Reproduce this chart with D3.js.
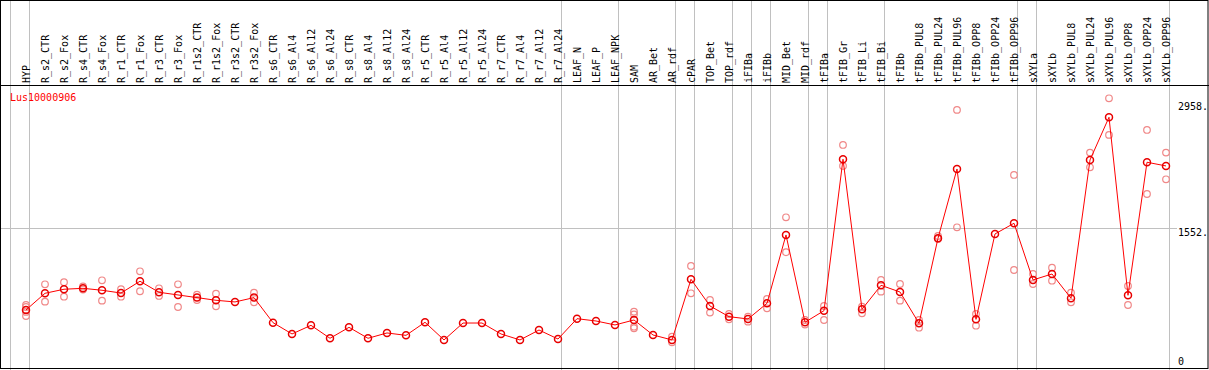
<!DOCTYPE html>
<html>
<head>
<meta charset="utf-8">
<script src="https://cdn.jsdelivr.net/npm/d3@7/dist/d3.min.js"></script>
<style>
  body { margin: 0; background: #fff; }
  svg { display: block; }
  text { font-family: 'DejaVu Sans Mono', monospace; font-size: 10px; }
</style>
</head>
<body>
<div id="chart"></div>
<script>
'use strict';

var title = 'Lus10000906';

var samples = [
  'HYP', 'R_s2_CTR', 'R_s2_Fox', 'R_s4_CTR', 'R_s4_Fox', 'R_r1_CTR', 'R_r1_Fox',
  'R_r3_CTR', 'R_r3_Fox', 'R_r1s2_CTR', 'R_r1s2_Fox', 'R_r3s2_CTR', 'R_r3s2_Fox',
  'R_s6_CTR', 'R_s6_Al4', 'R_s6_Al12', 'R_s6_Al24', 'R_s8_CTR', 'R_s8_Al4',
  'R_s8_Al12', 'R_s8_Al24', 'R_r5_CTR', 'R_r5_Al4', 'R_r5_Al12', 'R_r5_Al24',
  'R_r7_CTR', 'R_r7_Al4', 'R_r7_Al12', 'R_r7_Al24', 'LEAF_N', 'LEAF_P', 'LEAF_NPK',
  'SAM', 'AR_Bet', 'AR_rdf', 'cPAR', 'TOP_Bet', 'TOP_rdf', 'iFIBa', 'iFIBb',
  'MID_Bet', 'MID_rdf', 'tFIBa', 'tFIB_Gr', 'tFIB_Li', 'tFIB_Bi', 'tFIBb',
  'tFIBb_PUL8', 'tFIBb_PUL24', 'tFIBb_PUL96', 'tFIBb_OPP8', 'tFIBb_OPP24', 'tFIBb_OPP96',
  'sXYLa', 'sXYLb', 'sXYLb_PUL8', 'sXYLb_PUL24', 'sXYLb_PUL96', 'sXYLb_OPP8',
  'sXYLb_OPP24', 'sXYLb_OPP96'
];

var means = [
  658, 839, 883, 893, 872, 842, 970, 850, 821, 792, 763, 745, 792,
  520, 397, 491, 350, 469, 350, 408, 382, 524, 332, 516, 516, 397, 332, 440, 342,
  563, 538, 495, 549, 386, 332, 991, 701, 585, 560, 730, 1473, 524, 650,
  2296, 665, 926, 853, 513, 1437, 2190, 556, 1484, 1600,
  984, 1049, 785, 2288, 2752, 817, 2263, 2223
];

var replicates = [
  [712, 690, 636, 592], [937, 748], [959, 802], [913, 880], [980, 759], [883, 802],
  [1078, 861], [893, 810], [937, 690], [824, 766], [835, 698], [], [846, 741],
  [], [], [], [], [], [], [], [], [], [], [], [], [], [], [], [],
  [], [], [], [639, 610, 476, 459], [], [368, 306], [1136, 839], [766, 629],
  [614, 556], [585, 531], [777, 676], [1665, 1285], [549, 500], [701, 549],
  [2451, 2223], [694, 622], [984, 857], [940, 759], [549, 465], [1462, 1429],
  [2832, 1556], [614, 487], [], [2125, 1092], [1049, 940], [1117, 976],
  [846, 741], [2368, 2208], [2958, 2560], [918, 712], [2614, 1918], [2368, 2078]
];

// first sample of each group; a gray rule is drawn on its left edge
var groupStarts = [
  'HYP', 'R_s2_CTR', 'LEAF_N', 'SAM', 'cPAR', 'TOP_Bet', 'iFIBa', 'iFIBb',
  'MID_Bet', 'tFIBa', 'tFIB_Gr', 'tFIBb', 'sXYLa', 'sXYLb'
];

var yTicks = [0, 1552, 2958];
var yTickLabels = ['0', '1552.', '2958.'];
var yMax = 2958;

var width = 1209,
  height = 370,
  headerY = 85.5,
  colStep = 19,
  left = 11;

var svg = d3.select('#chart')
  .append('svg')
  .attr('width', width)
  .attr('height', height);

var x = d3.scaleBand()
  .domain(samples)
  .range([left, left + colStep * samples.length])
  .paddingInner(0)
  .paddingOuter(0);

var y = d3.scaleLinear()
  .domain([0, yMax])
  .range([370.5, 98.3]);

var px = function(name) { return x(name) + 15; };
var rightEdge = x.range()[1];

// grid rule at the middle value
svg.append('line')
  .attr('x1', 1)
  .attr('x2', rightEdge + 7)
  .attr('y1', Math.round(y(yTicks[1])) + 0.5)
  .attr('y2', Math.round(y(yTicks[1])) + 0.5)
  .attr('stroke', '#c0c0c0');

// group separators
var seps = groupStarts.map(function(d) { return x(d); }).concat([rightEdge]);
svg.selectAll('.sep')
  .data(seps)
  .enter().append('line')
  .attr('class', 'sep')
  .attr('x1', function(d) { return d - 0.5; })
  .attr('x2', function(d) { return d - 0.5; })
  .attr('y1', 0)
  .attr('y2', height)
  .attr('stroke', '#c0c0c0');

// frame and header rule
svg.append('rect')
  .attr('x', 0.5)
  .attr('y', 0.5)
  .attr('width', 1207.5)
  .attr('height', 368)
  .attr('fill', 'none')
  .attr('stroke', '#000');

svg.append('line')
  .attr('x1', 0)
  .attr('x2', width)
  .attr('y1', headerY)
  .attr('y2', headerY)
  .attr('stroke', '#000');

// sample labels
svg.selectAll('.lab')
  .data(samples)
  .enter().append('text')
  .attr('class', 'lab')
  .attr('transform', function(d) {
    return 'translate(' + (x(d) + 19) + ',83) rotate(-90)';
  })
  .attr('fill', '#000')
  .text(function(d) { return d; });

// value labels on the right
svg.selectAll('.ytick')
  .data(yTicks)
  .enter().append('text')
  .attr('class', 'ytick')
  .attr('x', rightEdge + 8)
  .attr('y', function(d) { return Math.max(110, Math.min(365, y(d) + 8)); })
  .attr('fill', '#000')
  .text(function(d, i) { return yTickLabels[i]; });

svg.append('text')
  .attr('x', 10)
  .attr('y', 101)
  .attr('fill', '#ff0000')
  .text(title);

// replicate points
var reps = [];
samples.forEach(function(s, i) {
  replicates[i].forEach(function(v) { reps.push({ s: s, v: v }); });
});

svg.selectAll('.rep')
  .data(reps)
  .enter().append('circle')
  .attr('class', 'rep')
  .attr('cx', function(d) { return px(d.s); })
  .attr('cy', function(d) { return y(d.v); })
  .attr('r', 3.3)
  .attr('fill', 'none')
  .attr('stroke', '#f08888')
  .attr('stroke-width', 1.2);

// mean line
var line = d3.line()
  .x(function(d, i) { return px(samples[i]); })
  .y(function(d) { return y(d); });

svg.append('path')
  .datum(means)
  .attr('d', line)
  .attr('fill', 'none')
  .attr('stroke', '#ff0000')
  .attr('stroke-width', 1);

svg.selectAll('.mean')
  .data(means)
  .enter().append('circle')
  .attr('class', 'mean')
  .attr('cx', function(d, i) { return px(samples[i]); })
  .attr('cy', function(d) { return y(d); })
  .attr('r', 3.5)
  .attr('fill', 'none')
  .attr('stroke', '#e80000')
  .attr('stroke-width', 1.5);
</script>
</body>
</html>
